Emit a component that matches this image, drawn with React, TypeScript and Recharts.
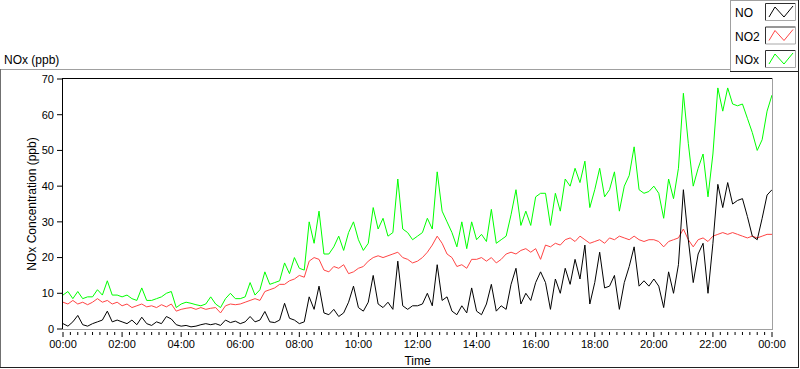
import React from 'react';
import { LineChart, Line, XAxis, YAxis, Label } from 'recharts';

const FONT = '"Liberation Sans", Arial, sans-serif';

// Series names and colours
const SERIES_NAMES = ['NO', 'NO2', 'NOx'];
const SERIES_COLORS = ['#000000', '#ff4444', '#00ff00'];

// Sampling: one value every 10 minutes, 00:00 .. 24:00 (6 values per hour + final)
const SAMPLE_STEP_MIN = 10;

// NO (ppb)
const NO_PPB = [
  1.5, 0.8, 2.0, 3.8, 1.2, 0.8,
  1.5, 2.0, 2.5, 5.0, 2.0, 2.5,
  2.0, 1.5, 2.5, 1.2, 3.3, 1.5,
  1.0, 2.0, 1.5, 3.5, 2.8, 1.2,
  0.8, 1.0, 0.6, 0.8, 1.2, 1.5,
  1.2, 1.5, 1.0, 2.5, 1.8, 2.2,
  1.5, 2.0, 3.5, 2.0, 2.5, 4.9,
  2.0, 1.8, 2.5, 7.2, 3.0, 2.5,
  1.5, 2.0, 9.0, 5.5, 12.0, 4.5,
  4.0, 5.5, 3.5, 4.5, 7.5, 12.0,
  6.0, 5.0, 7.5, 15.0, 7.0, 6.0,
  7.5, 5.5, 19.0, 6.5, 5.5, 6.5,
  6.5, 7.0, 10.0, 6.5, 18.0, 8.0,
  9.0, 5.0, 4.0, 6.5, 4.5, 11.5,
  5.0, 4.0, 7.0, 12.5, 5.0, 6.5,
  5.5, 12.5, 17.0, 7.0, 10.0, 8.0,
  13.0, 16.0, 13.0, 5.5, 14.0, 10.0,
  17.0, 12.5, 19.5, 14.0, 23.5, 7.0,
  13.0, 21.5, 11.5, 12.0, 15.0, 5.5,
  13.0, 17.5, 23.0, 12.0, 13.5, 12.0,
  14.0, 12.0, 6.0, 16.0, 10.0, 18.0,
  39.0, 25.0, 13.0, 21.0, 24.0, 10.0,
  24.0, 40.5, 34.0, 41.0, 35.0, 36.0,
  36.5, 31.5, 26.0, 25.0, 31.0, 37.5,
  39.0,
];

// NO2 (ppb)
const NO2_PPB = [
  7.5, 7.0, 8.0, 7.0, 7.5, 6.8,
  7.5, 8.5, 7.5, 8.0, 7.0, 7.5,
  6.5, 7.0, 6.0, 6.5, 7.0, 6.2,
  6.5, 6.0, 6.8, 6.2, 7.0, 5.0,
  5.5, 5.8, 6.0, 5.5, 6.0, 5.5,
  5.8, 6.0, 4.5, 6.5, 7.0, 6.8,
  7.0, 7.5, 8.0, 8.5, 8.0, 10.5,
  11.0, 11.5, 12.5, 12.5, 13.5, 14.0,
  15.0, 14.5, 19.0, 20.0, 19.5, 16.5,
  16.0, 17.5, 17.0, 18.0, 15.5, 16.0,
  17.0, 17.5, 19.0, 20.0, 20.5, 20.0,
  20.5, 21.0, 21.5, 20.0, 19.5, 18.5,
  19.0, 20.0, 21.5, 23.5, 26.0, 24.0,
  21.0, 20.0, 17.5, 18.0, 17.0, 19.5,
  19.5, 20.0, 19.0, 20.0, 18.5, 19.5,
  21.0, 21.5, 21.0, 22.0, 22.5, 21.5,
  22.5, 19.5, 23.5, 23.0, 24.0, 23.5,
  25.0, 25.5, 24.5, 26.0, 25.0, 24.0,
  24.5, 25.0, 24.0, 25.5, 25.0, 26.0,
  25.5, 25.0, 26.0, 25.0, 24.5, 25.0,
  25.0, 24.5, 23.0, 24.5, 25.0, 25.5,
  28.0, 25.0, 23.0, 25.0, 25.5, 24.5,
  26.0, 26.5, 27.0, 26.5, 27.0, 26.5,
  26.0, 25.5, 26.0, 25.5, 26.0, 26.5,
  26.5,
];

// NOx (ppb)
const NOX_PPB = [
  9.5, 10.5, 8.5, 10.5, 8.5, 9.0,
  9.0, 11.0, 9.5, 13.5, 9.5, 9.5,
  9.0, 9.5, 8.5, 8.0, 11.5, 8.0,
  8.0, 8.5, 9.0, 10.0, 10.5, 6.0,
  7.0, 7.5, 7.2, 6.8, 6.5, 7.0,
  9.0, 7.0, 6.0, 8.5, 10.0, 8.5,
  8.5, 9.0, 13.0, 9.5, 11.0, 16.0,
  12.5, 13.0, 13.5, 18.5, 15.5, 20.0,
  17.0, 16.5, 30.0, 24.0, 33.0, 21.0,
  21.0, 23.0, 26.0, 22.0, 27.0, 30.0,
  25.0, 22.0, 24.0, 34.0, 28.0, 31.0,
  26.0, 27.0, 42.0, 28.0, 27.0, 25.0,
  26.0, 27.0, 31.0, 28.0, 44.0, 33.0,
  30.0, 27.0, 23.0, 30.0, 22.5, 30.0,
  25.0, 26.5, 24.5, 33.5, 24.0, 25.0,
  26.0, 32.0, 39.0, 29.0, 33.0, 29.0,
  37.0, 38.0, 38.0, 29.0, 38.0, 33.0,
  42.0, 40.0, 45.0, 41.0, 47.0, 34.0,
  39.0, 45.0, 37.0, 39.0, 44.0, 33.0,
  40.0, 43.0, 51.0, 39.0, 38.0, 38.5,
  40.0, 38.0, 31.0, 42.0, 36.5, 45.0,
  66.0, 52.0, 40.0, 45.0, 49.0, 37.0,
  49.0, 67.5, 61.0, 67.5, 63.0, 62.5,
  63.0, 59.0, 55.0, 50.0, 53.0, 61.0,
  65.5,
];

// Axis ticks and labels
const X_TICK_LABELS = ['00:00', '02:00', '04:00', '06:00', '08:00', '10:00', '12:00', '14:00', '16:00', '18:00', '20:00', '22:00', '00:00'];
const X_MAJOR_STEP_MIN = 120;
const X_MINOR_STEP_MIN = 15;
const X_MAX_MIN = 1440;
const Y_TICKS = [0, 10, 20, 30, 40, 50, 60, 70];

const data = NO_PPB.map((v, i) => ({
  t: i * SAMPLE_STEP_MIN,
  NO: v,
  NO2: NO2_PPB[i],
  NOx: NOX_PPB[i],
}));

const xTicks: number[] = [];
for (let m = 0; m <= X_MAX_MIN; m += X_MINOR_STEP_MIN) xTicks.push(m);

// Layout constants
const W = 800;
const H = 369;
const PLOT_TOP = 79;
const PLOT_LEFT = 63;
const PLOT_RIGHT = 772;
const X_AXIS_H = 40;
const PLOT_BOTTOM = H - X_AXIS_H;

const XTick = (props: any) => {
  const { x, payload } = props;
  const v = payload.value as number;
  const major = v % X_MAJOR_STEP_MIN === 0;
  const label = major ? X_TICK_LABELS[v / X_MAJOR_STEP_MIN] : null;
  return (
    <g>
      <line x1={x} x2={x} y1={PLOT_BOTTOM + 3} y2={PLOT_BOTTOM + (major ? 8 : 6)} stroke="#000" strokeWidth={1} />
      {label && (
        <text x={x} y={PLOT_BOTTOM + 19} textAnchor="middle" fontSize={11} fontFamily={FONT} fill="#000">
          {label}
        </text>
      )}
    </g>
  );
};

const LegendIcon = ({ x, y, color }: { x: number; y: number; color: string }) => (
  <g>
    <rect x={x + 0.5} y={y + 0.5} width={30} height={17} fill="#fff" stroke="none" />
    <line x1={x + 0.5} y1={y + 0.5} x2={x + 30.5} y2={y + 0.5} stroke="#303030" />
    <line x1={x + 0.5} y1={y + 0.5} x2={x + 0.5} y2={y + 17.5} stroke="#303030" />
    <line x1={x + 0.5} y1={y + 17.5} x2={x + 30.5} y2={y + 17.5} stroke="#a8a8a8" />
    <line x1={x + 30.5} y1={y + 0.5} x2={x + 30.5} y2={y + 17.5} stroke="#a8a8a8" />
    <polyline
      points={`${x + 4},${y + 14} ${x + 10},${y + 4} ${x + 19},${y + 14} ${x + 28},${y + 3}`}
      fill="none"
      stroke={color}
      strokeWidth={1}
    />
  </g>
);

const Overlay = () => (
  <svg width={W} height={H} style={{ position: 'absolute', left: 0, top: 0, pointerEvents: 'none' }}>
    {/* outer frame */}
    <line x1={0} y1={69.5} x2={731} y2={69.5} stroke="#a0a0a0" />
    <line x1={0.5} y1={69} x2={0.5} y2={368} stroke="#707070" />
    <line x1={0} y1={367.5} x2={799} y2={367.5} stroke="#202020" />
    <line x1={798.5} y1={71} x2={798.5} y2={368} stroke="#202020" />
    {/* scale title */}
    <text x={4} y={64} fontSize={12} fontFamily={FONT} fill="#000">NOx (ppb)</text>
    {/* legend */}
    <rect x={730.5} y={0.5} width={68} height={71} fill="#fff" stroke="none" />
    <line x1={730.5} y1={0} x2={730.5} y2={72} stroke="#a0a0a0" />
    <line x1={730} y1={0.5} x2={799} y2={0.5} stroke="#a0a0a0" />
    <line x1={730} y1={71.5} x2={799} y2={71.5} stroke="#202020" />
    <line x1={798.5} y1={0} x2={798.5} y2={72} stroke="#202020" />
    {SERIES_NAMES.map((name, i) => (
      <g key={name}>
        <text x={735} y={17 + i * 23.5} fontSize={12} fontFamily={FONT} fill="#000">{name}</text>
        <LegendIcon x={765} y={3 + i * 23.5} color={SERIES_COLORS[i]} />
      </g>
    ))}
    {/* plot frame */}
    <line x1={62} y1={PLOT_TOP - 0.5} x2={PLOT_RIGHT + 1} y2={PLOT_TOP - 0.5} stroke="#000" />
    <line x1={PLOT_LEFT - 0.5} y1={PLOT_TOP - 1} x2={PLOT_LEFT - 0.5} y2={PLOT_BOTTOM + 1} stroke="#000" />
    <line x1={PLOT_RIGHT + 0.5} y1={PLOT_TOP - 1} x2={PLOT_RIGHT + 0.5} y2={PLOT_BOTTOM + 1} stroke="#a0a0a0" />
    <line x1={PLOT_LEFT - 1} y1={PLOT_BOTTOM + 0.5} x2={PLOT_RIGHT + 1} y2={PLOT_BOTTOM + 0.5} stroke="#a0a0a0" />
  </svg>
);

export default function App() {
  return (
    <div style={{ position: 'absolute', left: 0, top: 0, width: W, height: H, background: '#fff' }}>
      <LineChart
        width={W}
        height={H}
        data={data}
        margin={{ top: PLOT_TOP, right: W - PLOT_RIGHT, bottom: 0, left: 0 }}
      >
        <XAxis
          dataKey="t"
          type="number"
          domain={[0, X_MAX_MIN]}
          ticks={xTicks}
          interval={0}
          height={X_AXIS_H}
          axisLine={false}
          tickLine={false}
          tick={(p: any) => <XTick {...p} />}
        >
          <Label value="Time" position="insideBottom" offset={4} fontSize={12} fontFamily={FONT} fill="#000" />
        </XAxis>
        <YAxis
          type="number"
          domain={[0, 70]}
          ticks={Y_TICKS}
          interval={0}
          width={PLOT_LEFT}
          axisLine={false}
          tickLine={{ stroke: '#000' }}
          tickSize={6}
          tickMargin={3}
          tick={{ fontSize: 11, fontFamily: FONT, fill: '#000' }}
        >
          <Label
            value="NOx Concentration (ppb)"
            angle={-90}
            position="insideLeft"
            offset={32}
            fontSize={12}
            fontFamily={FONT}
            fill="#000"
            style={{ textAnchor: 'middle' }}
          />
        </YAxis>
        <Line dataKey="NOx" name="NOx" type="linear" stroke={SERIES_COLORS[2]} strokeWidth={1} dot={false} isAnimationActive={false} />
        <Line dataKey="NO2" name="NO2" type="linear" stroke={SERIES_COLORS[1]} strokeWidth={1} dot={false} isAnimationActive={false} />
        <Line dataKey="NO" name="NO" type="linear" stroke={SERIES_COLORS[0]} strokeWidth={1} dot={false} isAnimationActive={false} />
      </LineChart>
      <Overlay />
    </div>
  );
}
